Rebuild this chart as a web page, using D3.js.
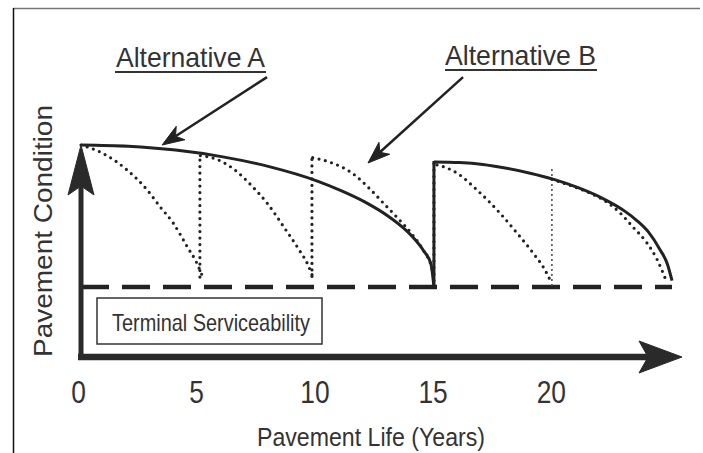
<!DOCTYPE html>
<html>
<head>
<meta charset="utf-8">
<script src="https://cdn.jsdelivr.net/npm/d3@7"></script>
<style>
  body { margin: 0; background: #fff; }
  svg { display: block; font-family: "Liberation Sans", Arial, sans-serif; }
</style>
</head>
<body>
<div id="chart"></div>
<script>
// years on the x axis, condition in percent (0 = axis, 100 = new pavement)
const tickYears = [0, 5, 10, 15, 20];
const lifeSpan = [0, 25];
const terminalLevel = 33;

// Alternative A: solid line, one rehab at ~15 years
const altA1 = [[0,100],[2,99.4],[4,97.6],[6,94.4],[8,89.7],[10,83],[11,78.5],[12,73.2],[13,66.4],[14,57],[14.5,50],[14.8,44],[14.93,33]];
const altA2 = [[14.93,92],[16,91.7],[17,90.8],[18,89],[19,86.7],[20,83.8],[21,80],[22,75.2],[23,68.8],[23.5,64.5],[24,59],[24.5,50.5],[24.8,44],[25,36]];

// Alternative B: dotted line, rehab about every 5 years
const altB1 = [[0,100],[0.9,96.2],[1.95,88.2],[2.8,78.8],[3.35,70.8],[3.9,63.2],[4.5,51.9],[4.9,44.3],[5.15,37.7]];
const altB2 = [[5.05,95],[5.8,93],[6.5,88.3],[7.2,81],[7.9,72.2],[8.6,61],[9.2,51],[9.6,43.5],[9.8,38]];
const altB3 = [[9.8,94],[10.5,92],[11.5,86.5],[12.2,79.5],[12.8,72.5],[13.4,65.5],[14,58],[14.5,50],[14.8,43.5],[14.95,37]];
const altB4 = [[15.06,90.6],[15.4,89.5],[15.9,86.8],[16.75,78.8],[17.72,67.9],[18.44,58.5],[19.12,49.1],[19.63,41],[19.9,35]];
const altB5 = [[19.92,83.8],[20.8,80.5],[21.5,77.5],[22.25,73],[22.8,68],[23.35,61.3],[23.94,53.8],[24.37,46],[24.7,37.5]];
const bRehabYears = [5.03, 9.77, 14.93, 19.92];
const bRehabFrom = [37.7, 38, 33, 34];
const bRehabTo = [95, 94.3, 91.5, 89];

// callouts, in data units: [tailYear, tailCond, tipYear, tipCond]
const calloutA = [7.87, 132, 3.43, 100];
const calloutB = [16.16, 132, 12.14, 91.5];

const width = 703, height = 453;
const ink = "#222";

const svg = d3.select("#chart")
  .append("svg")
  .attr("width", width)
  .attr("height", height);

// scan frame
svg.append("line").attr("x1", 13).attr("x2", 700).attr("y1", 8.5).attr("y2", 8.5)
  .attr("stroke", "#777").attr("stroke-width", 1.5);
svg.append("line").attr("x1", 13.5).attr("x2", 13.5).attr("y1", 8).attr("y2", height)
  .attr("stroke", "#111").attr("stroke-width", 1.5);

const xScale = d3.scaleLinear().domain(lifeSpan).range([81, 672]);
const yScale = d3.scaleLinear().domain([0, 100]).range([357, 145]);

const line = d3.line()
  .x(d => xScale(d[0]))
  .y(d => yScale(d[1]))
  .curve(d3.curveMonotoneX);

function condense(sel, target) {
  sel.attr("textLength", target).attr("lengthAdjust", "spacingAndGlyphs");
}

// terminal serviceability (dashed)
svg.append("line")
  .attr("x1", xScale(lifeSpan[0])).attr("x2", xScale(lifeSpan[1]))
  .attr("y1", yScale(terminalLevel)).attr("y2", yScale(terminalLevel))
  .attr("stroke", ink).attr("stroke-width", 4.5)
  .attr("stroke-dasharray", "28 13");

// Alternative B dotted
const dotted = g => g.attr("fill", "none").attr("stroke", ink)
  .attr("stroke-width", 3.2).attr("stroke-linecap", "round")
  .attr("stroke-dasharray", "0 6.5");

svg.selectAll(".altB")
  .data([altB1, altB2, altB3, altB4, altB5])
  .join("path")
  .attr("class", "altB")
  .attr("d", d => line(d))
  .call(dotted);

svg.selectAll(".rehabB")
  .data(bRehabYears)
  .join("line")
  .attr("class", "rehabB")
  .attr("x1", d => xScale(d)).attr("x2", d => xScale(d))
  .attr("y1", (d, i) => yScale(bRehabFrom[i]))
  .attr("y2", (d, i) => yScale(bRehabTo[i]))
  .call(dotted)
  .filter((d, i) => i == bRehabYears.length - 1)
  .attr("stroke-width", 2).attr("stroke-dasharray", "0 5").attr("stroke", "#444");

// Alternative A solid
svg.selectAll(".altA")
  .data([altA1, altA2])
  .join("path")
  .attr("class", "altA")
  .attr("d", d => line(d))
  .attr("fill", "none").attr("stroke", ink).attr("stroke-width", 3);

const aEnd = altA1[altA1.length - 1], aStart = altA2[0];
svg.append("line")
  .attr("x1", xScale(aEnd[0])).attr("x2", xScale(aStart[0]))
  .attr("y1", yScale(aEnd[1]) + 1).attr("y2", yScale(aStart[1]) - 1)
  .attr("stroke", ink).attr("stroke-width", 3);

// arrow helper: shaft + barbed head
function arrow(x1, y1, x2, y2, w, len, half, notch, color) {
  const d = Math.hypot(x2 - x1, y2 - y1);
  const ux = (x2 - x1) / d, uy = (y2 - y1) / d;
  const px = -uy, py = ux;
  const bx = x2 - ux * len, by = y2 - uy * len;
  const nx = x2 - ux * (len - notch), ny = y2 - uy * (len - notch);
  svg.append("line")
    .attr("x1", x1).attr("y1", y1).attr("x2", nx).attr("y2", ny)
    .attr("stroke", color).attr("stroke-width", w);
  svg.append("path")
    .attr("d", `M${x2},${y2}L${bx + px * half},${by + py * half}L${nx},${ny}L${bx - px * half},${by - py * half}Z`)
    .attr("fill", color).attr("stroke", color).attr("stroke-width", 1)
    .attr("stroke-linejoin", "miter");
}

// axes
arrow(xScale(0) - 3, yScale(0), xScale(lifeSpan[1]) + 10, yScale(0), 6.5, 43, 16, 9, "#2a2a2a");
arrow(xScale(0), yScale(0) + 3, xScale(0), yScale(100), 5, 50, 13, 9, "#2a2a2a");

const xAxis = d3.axisBottom(xScale)
  .tickValues(tickYears)
  .tickSize(0)
  .tickPadding(24)
  .tickFormat(d3.format("d"));

const xAxisGroup = svg.append("g")
  .attr("transform", `translate(0, ${yScale(0)})`)
  .call(xAxis);
xAxisGroup.select(".domain").remove();
xAxisGroup.selectAll("text")
  .attr("font-size", 31)
  .attr("font-family", "Liberation Sans, Arial, sans-serif")
  .attr("fill", "#333")
  .attr("dx", -3)
  .each(function() {
    const w = this.getComputedTextLength();
    condense(d3.select(this), w * 0.85);
  });

// callout arrows
[calloutA, calloutB].forEach(c => {
  arrow(xScale(c[0]), yScale(c[1]), xScale(c[2]), yScale(c[3]), 2.5, 22, 8, 6, ink);
});

// titles
svg.append("text").attr("x", 116).attr("y", 67)
  .attr("font-size", 28).attr("fill", "#333")
  .text("Alternative A").call(condense, 149);
svg.append("line").attr("x1", 115).attr("x2", 266).attr("y1", 72).attr("y2", 72)
  .attr("stroke", "#333").attr("stroke-width", 2);

svg.append("text").attr("x", 445).attr("y", 65)
  .attr("font-size", 28).attr("fill", "#333")
  .text("Alternative B").call(condense, 151);
svg.append("line").attr("x1", 445).attr("x2", 597).attr("y1", 70).attr("y2", 70)
  .attr("stroke", "#333").attr("stroke-width", 2);

// terminal serviceability box
svg.append("rect")
  .attr("x", 97).attr("y", 298).attr("width", 225).attr("height", 46)
  .attr("fill", "#fff").attr("stroke", "#333").attr("stroke-width", 1.5);
svg.append("text").attr("x", 112).attr("y", 331)
  .attr("font-size", 24).attr("fill", "#333")
  .text("Terminal Serviceability").call(condense, 198);

// axis titles
svg.append("text").attr("x", 257).attr("y", 446)
  .attr("font-size", 26).attr("fill", "#333")
  .text("Pavement Life (Years)").call(condense, 228);

svg.append("text")
  .attr("transform", "translate(52, 357) rotate(-90)")
  .attr("font-size", 26).attr("fill", "#333")
  .text("Pavement Condition").call(condense, 252);
</script>
</body>
</html>
